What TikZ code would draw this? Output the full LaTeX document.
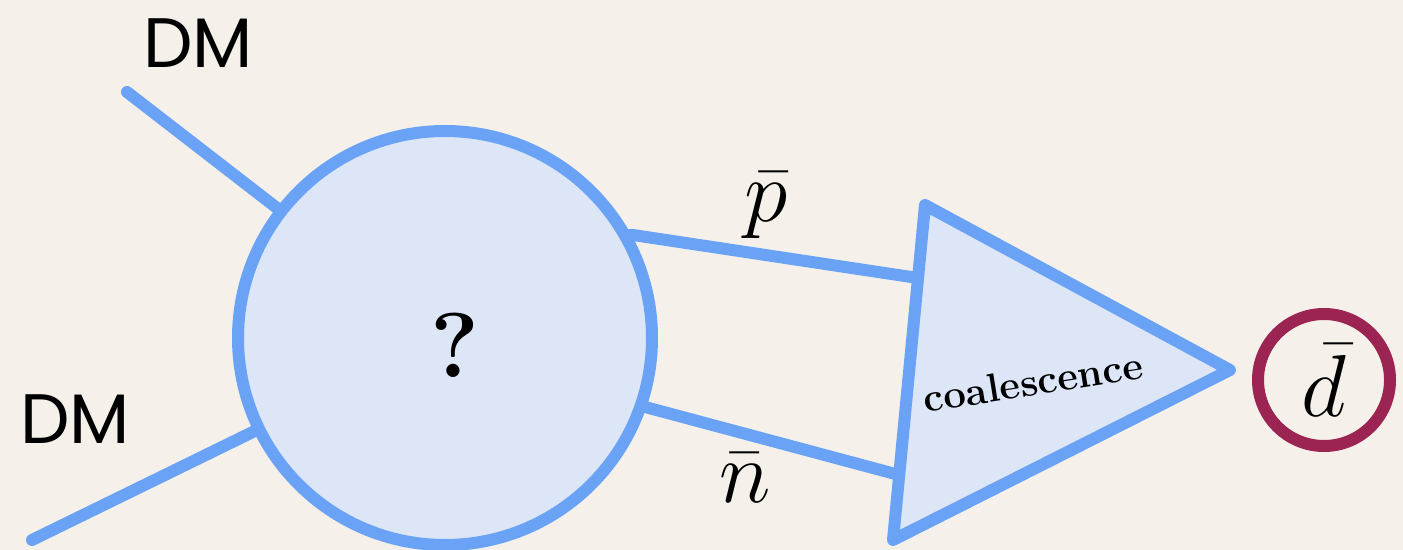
\RequirePackage{fix-cm}
\documentclass[tikz,border=0pt]{standalone}
\usepackage{fontspec}
\newfontfamily\dmfont{Poppins}
\usetikzlibrary{calc}
\definecolor{bgc}{HTML}{F5F1EA}
\definecolor{bluel}{HTML}{6AA3F5}
\definecolor{bluef}{HTML}{DCE6F7}
\definecolor{wine}{HTML}{9C2452}
\tikzset{
  bluestroke/.style={draw=bluel, line width=6pt, line cap=round, line join=round},
  dmlabel/.style={font=\dmfont\fontsize{35}{40}\selectfont, text=black},
  mathlabel/.style={font=\fontsize{44}{48}\selectfont, text=black},
}
\begin{document}
\begin{tikzpicture}[x=0.5pt, y=-0.5pt]
  \fill[bgc] (0,0) rectangle (1403,550);
  \useasboundingbox (0,0) rectangle (1403,550);

  % coordinates
  \coordinate (dmA) at (127,92);
  \coordinate (dmB) at (32,540);
  \coordinate (T1) at (925,205);
  \coordinate (T2) at (1230,370);
  \coordinate (T3) at (893,540);
  \coordinate (pend) at ($(T1)!0.218!(T3)$);
  \coordinate (nend) at ($(T1)!0.806!(T3)$);

  % incoming DM lines
  \node[circle, minimum size=207pt, inner sep=0pt] (blobref) at (445,338) {};
  \draw[bluestroke] (dmA) -- (blobref);
  \draw[bluestroke] (dmB) -- (blobref);

  % blob
  \node[circle, minimum size=207pt, inner sep=0pt, fill=bluef, bluestroke] (blob) at (445,338) {};
  \node[font=\bfseries\fontsize{46}{50}\selectfont] (qm) at (455,345) {?};

  % outgoing lines
  \draw[bluestroke] (blob.29) -- (pend);
  \draw[bluestroke] (blob.-19) -- (nend);

  % triangle
  \draw[bluestroke, fill=bluef] (T1) -- (T2) -- (T3) -- cycle;
  \node[rotate=9, font=\bfseries\fontsize{20}{24}\selectfont] (coal) at (1033,382) {coalescence};

  % labels
  \node[dmlabel] (dmtop) at (198,43) {DM};
  \node[dmlabel] (dmbot) at (75,419) {DM};
  \node[mathlabel] (pbar) at (766,205) {$\bar{p}$};
  \node[mathlabel] (nbar) at (745,478) {$\bar{n}$};

  % antideuteron
  \node[circle, draw=wine, line width=6pt, minimum size=66pt, inner sep=0pt,
        mathlabel] (dbar) at (1324,380) {$\bar{d}$};
\end{tikzpicture}
\end{document}
